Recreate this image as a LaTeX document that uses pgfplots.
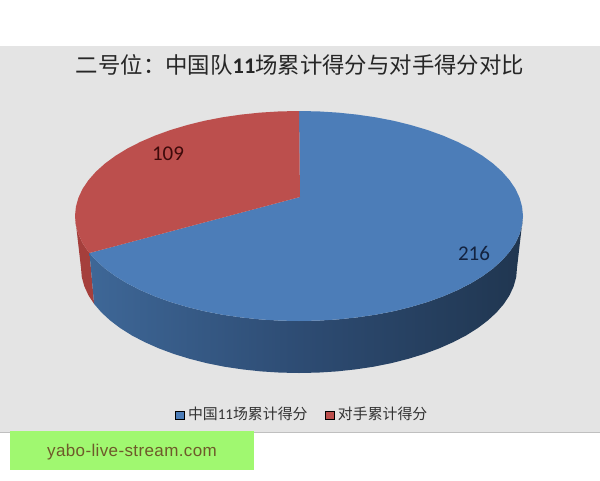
\documentclass[border=0pt]{standalone}
\usepackage{pgfplots}
\pgfplotsset{compat=1.18}
\usepackage{fontspec}
\setmainfont{Carlito}
\newfontfamily\cjk{Noto Sans CJK SC}
\newfontfamily\wm[LetterSpace=2.2]{Liberation Sans}
\definecolor{piblue}{HTML}{4C7DB8}
\definecolor{pired}{HTML}{BC4F4D}
\definecolor{redside}{HTML}{A53F3C}
\definecolor{bgtex}{HTML}{E4E4E4}
\definecolor{wmgreen}{HTML}{A0F870}
\definecolor{wmtext}{HTML}{6E5A2A}
\definecolor{sa}{HTML}{4878AF}
\definecolor{sb}{HTML}{3E6797}
\definecolor{sc}{HTML}{2D4B72}
\definecolor{sd}{HTML}{203650}
\definecolor{se}{HTML}{1D3049}
\definecolor{lblblue}{HTML}{14233F}
\definecolor{lblred}{HTML}{3D0A0A}
\pgfdeclarehorizontalshading{pieside}{100bp}{
  color(0bp)=(sa);
  color(25bp)=(sb);
  color(50bp)=(sc);
  color(75bp)=(sd);
  color(100bp)=(se)}
\begin{document}
\begin{tikzpicture}
\begin{axis}[
  width=600pt,height=480pt,scale only axis,hide axis,
  xmin=0,xmax=600,ymin=0,ymax=480,y dir=reverse,
  legend columns=2,
  legend image code/.code={\fill[#1] (0pt,-5pt) rectangle (9pt,3pt);\path (11pt,0pt);},
  legend style={at={(axis cs:302,414)},anchor=center,draw=none,fill=none,
    font=\cjk\fontsize{14.9}{16}\selectfont,text=black!80,
    /tikz/every even column/.style={column sep=15pt},
    inner sep=0pt,outer sep=0pt},
]
% page ground and textured panel
\fill[white] (axis cs:0,0) rectangle (axis cs:600,480);
\fill[bgtex] (axis cs:0,46) rectangle (axis cs:600,432);
\draw[black!25,line width=0.8pt] (axis cs:0,432) -- (axis cs:600,432);
\fill[wmgreen] (axis cs:10,431) rectangle (axis cs:254,470);

\addlegendimage{fill=piblue}
\addlegendentry{中国{\fontspec{Carlito}\fontsize{15}{16}\selectfont 11}场累计得分}
\addlegendimage{fill=pired}
\addlegendentry{对手累计得分}

% red side wall
\addplot[forget plot,draw=none,fill=redside] coordinates {
(75,216)(75.9,225.2)(78.4,234.2)(82.6,243.2)(88.5,251.9)(89.5,253)
(94.1,303.9)(88.4,295.2)(84.3,286.2)(81.8,277.2)(81,268)} -- cycle;
% blue side wall
\addplot[forget plot,draw=none,shade,shading=pieside] coordinates {
(89.5,253)(96,260.4)(105,268.5)(115.5,276.2)(127.4,283.5)(140.6,290.2)(155,296.4)(170.5,302)(187,306.9)(204.3,311.2)(222.4,314.7)(241,317.4)(260.1,319.4)(279.5,320.6)(299,321)
(318.5,320.6)(337.9,319.4)(357,317.4)(375.6,314.7)(393.7,311.2)(411,306.9)(427.5,302)(443,296.4)(457.4,290.2)(470.6,283.5)(482.5,276.2)(493,268.5)(502,260.4)(509.5,251.9)(515.4,243.2)(519.6,234.2)(522.1,225.2)(523,216)
(517,268)(516.2,277.2)(513.7,286.2)(509.6,295.2)(503.9,303.9)(496.6,312.4)(487.8,320.5)(477.6,328.2)(466,335.5)(453.1,342.2)(439.1,348.4)(424,354)(408,358.9)(391.1,363.2)(373.6,366.7)(355.4,369.4)(336.8,371.4)(318,372.6)
(299,373)(280,372.6)(261.2,371.4)(242.6,369.4)(224.4,366.7)(206.9,363.2)(190,358.9)(174,354)(158.9,348.4)(144.9,342.2)(132,335.5)(120.4,328.2)(110.2,320.5)(101.4,312.4)(94.1,303.9)} -- cycle;
% blue top face, 216
\addplot[forget plot,draw=none,fill=piblue] coordinates {
(300,197)(89.5,253)(96,260.4)(105,268.5)(115.5,276.2)(127.4,283.5)(140.6,290.2)(155,296.4)(170.5,302)(187,306.9)(204.3,311.2)(222.4,314.7)(241,317.4)(260.1,319.4)(279.5,320.6)(299,321)
(318.5,320.6)(337.9,319.4)(357,317.4)(375.6,314.7)(393.7,311.2)(411,306.9)(427.5,302)(443,296.4)(457.4,290.2)(470.6,283.5)(482.5,276.2)(493,268.5)(502,260.4)(509.5,251.9)(515.4,243.2)(519.6,234.2)(522.1,225.2)(523,216)
(522.1,206.8)(519.6,197.8)(515.4,188.8)(509.5,180.1)(502,171.6)(493,163.5)(482.5,155.8)(470.6,148.5)(457.4,141.8)(443,135.6)(427.5,130)(411,125.1)(393.7,120.8)(375.6,117.3)(357,114.6)(337.9,112.6)(318.5,111.4)(299,111)} -- cycle;
% red top face, 109
\addplot[forget plot,draw=none,fill=pired] coordinates {
(300,197)(299,111)(279.5,111.4)(260.1,112.6)(241,114.6)(222.4,117.3)(204.3,120.8)(187,125.1)(170.5,130)(155,135.6)(140.6,141.8)(127.4,148.5)(115.5,155.8)(105,163.5)(96,171.6)(88.5,180.1)(82.6,188.8)(78.4,197.8)(75.9,206.8)
(75,216)(75.9,225.2)(78.4,234.2)(82.6,243.2)(88.5,251.9)(89.5,253)} -- cycle;

% value labels
\node[text=lblblue,font=\fontsize{21}{24}\selectfont] at (axis cs:474,253) {216};
\node[text=lblred,font=\fontsize{21}{24}\selectfont] at (axis cs:168,154) {109};

% title
\node[text=black!85,font=\cjk\fontsize{22.4}{26}\selectfont,inner sep=0pt] at (axis cs:300,65)
  {二号位：中国队{\fontspec{Carlito}\bfseries 11}场累计得分与对手得分对比};
% watermark
\node[text=wmtext,font=\wm\fontsize{17}{20}\selectfont,inner sep=0pt] at (axis cs:132,452) {yabo-live-stream.com};
\end{axis}
\end{tikzpicture}
\end{document}
